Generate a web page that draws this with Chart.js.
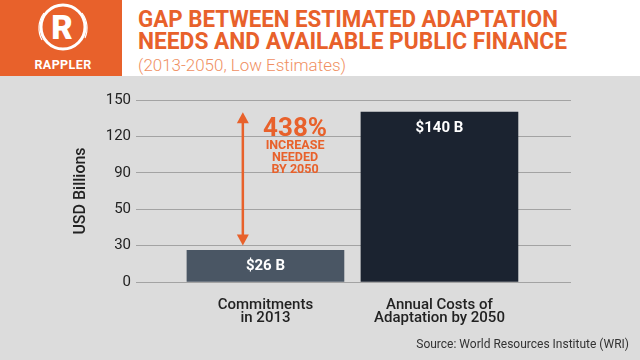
<!DOCTYPE html>
<html>
<head>
<meta charset="utf-8">
<script src="https://cdn.jsdelivr.net/npm/chart.js@4.4.1/dist/chart.umd.min.js"></script>
<style>
  html, body { margin: 0; padding: 0; }
  body { width: 640px; height: 360px; position: relative; overflow: hidden; background: #dcdcdc; font-family: Roboto, "DejaVu Sans", sans-serif; }
  #header { position: absolute; left: 0; top: 0; width: 640px; height: 76px; background: #ffffff; }
  #brand { position: absolute; left: 0; top: 0; width: 122px; height: 76px; background: #e8612b; }
  .tline { position: absolute; left: 138px; white-space: nowrap; transform-origin: 0 0; color: #e8612b; font-weight: 700; font-size: 24px; line-height: 24px; }
  #sub { position: absolute; left: 138px; white-space: nowrap; transform-origin: 0 0; color: #f08f62; font-weight: 300; font-size: 16px; line-height: 16px; top: 58px; }
  #wrap { position: absolute; left: 0; top: 76px; width: 640px; height: 284px; }
  #source { position: absolute; right: 11px; top: 337px; font-size: 12px; color: #333; }
</style>
</head>
<body>
<div id="header">
  <div id="brand">
    <svg width="122" height="76" viewBox="0 0 122 76">
      <circle cx="63" cy="27" r="22" fill="none" stroke="#ffffff" stroke-width="3"/>
      <path d="M 44 13 A 25 25 0 0 0 42 40" fill="none" stroke="#ffffff" stroke-width="1.2"/>
      <path d="M 82 13 A 25 25 0 0 1 85 38" fill="none" stroke="#ffffff" stroke-width="1.2"/>
      <text x="62" y="39" text-anchor="middle" font-family="Roboto" font-weight="900" font-size="33" fill="#ffffff">R</text>
      <text x="63" y="69" text-anchor="middle" font-family="Roboto" font-weight="700" font-size="12.5" fill="#ffffff" letter-spacing="0.4">RAPPLER</text>
    </svg>
  </div>
  <div class="tline" id="t1" style="top:7px">GAP BETWEEN ESTIMATED ADAPTATION</div>
  <div class="tline" id="t2" style="top:29px">NEEDS AND AVAILABLE PUBLIC FINANCE</div>
  <div id="sub">(2013-2050, Low Estimates)</div>
</div>
<div id="wrap"><canvas id="c" width="640" height="284"></canvas></div>
<div id="source">Source: World Resources Institute (WRI)</div>
<script>
// ---- data ----
const categories = [["Commitments", "in 2013"], ["Annual Costs of", "Adaptation by 2050"]];
const values = [26, 140];
const valueLabels = ["$26 B", "$140 B"];
const yTickLabels = ["0", "30", "50", "90", "120", "150"];
const arrowRange = [30, 140];
const noteLines = ["438%", "INCREASE", "NEEDED", "BY 2050"];

// fit header lines to their measured widths
function fitWidth(id, target) {
  const el = document.getElementById(id);
  const w = el.getBoundingClientRect().width;
  el.style.transform = 'scaleX(' + (target / w) + ')';
}
fitWidth('t1', 420);
fitWidth('t2', 429);
fitWidth('sub', 208);

const barColors = ['#4a5664', '#1b2330'];
const orange = '#e8612b';

const overlay = {
  id: 'overlay',
  afterDatasetsDraw(chart) {
    const ctx = chart.ctx;
    const xs = chart.scales.x, ys = chart.scales.y;
    const meta = chart.getDatasetMeta(0);
    ctx.save();
    // value labels inside bars
    ctx.fillStyle = '#ffffff';
    ctx.font = '700 15px Roboto';
    ctx.textAlign = 'center';
    ctx.textBaseline = 'middle';
    meta.data.forEach((bar, i) => {
      ctx.fillText(valueLabels[i], bar.x, bar.y + 16);
    });
    // arrow
    const ax = xs.getPixelForValue(-0.13);
    const yTop = ys.getPixelForValue(arrowRange[1]);
    const yBot = ys.getPixelForValue(arrowRange[0]);
    ctx.strokeStyle = orange;
    ctx.fillStyle = orange;
    ctx.lineWidth = 2.5;
    ctx.beginPath();
    ctx.moveTo(ax, yTop + 8);
    ctx.lineTo(ax, yBot - 8);
    ctx.stroke();
    ctx.beginPath();
    ctx.moveTo(ax, yTop); ctx.lineTo(ax - 6, yTop + 11); ctx.lineTo(ax + 6, yTop + 11); ctx.closePath();
    ctx.fill();
    ctx.beginPath();
    ctx.moveTo(ax, yBot); ctx.lineTo(ax - 6, yBot - 11); ctx.lineTo(ax + 6, yBot - 11); ctx.closePath();
    ctx.fill();
    // note text
    const tx = xs.getPixelForValue(0.17);
    const ty = ys.getPixelForValue(arrowRange[1]);
    ctx.textAlign = 'center';
    ctx.textBaseline = 'middle';
    ctx.font = '700 26px Roboto';
    ctx.fillText(noteLines[0], tx, ty + 17);
    ctx.font = '700 12.5px Roboto';
    ctx.fillText(noteLines[1], tx, ty + 34);
    ctx.fillText(noteLines[2], tx, ty + 46);
    ctx.fillText(noteLines[3], tx, ty + 58);
    ctx.restore();
  }
};

new Chart(document.getElementById('c'), {
  type: 'bar',
  data: {
    datasets: [{
      data: values.map((v, i) => ({ x: i, y: v })),
      backgroundColor: barColors,
      borderWidth: 0,
      barThickness: 157
    }]
  },
  options: {
    responsive: false,
    animation: false,
    events: [],
    layout: { padding: { top: 24, right: 69, bottom: 0, left: 0 } },
    plugins: { legend: { display: false }, tooltip: { enabled: false } },
    scales: {
      x: {
        type: 'linear',
        offset: false,
        min: -0.744,
        max: 1.756,
        afterBuildTicks: s => { s.ticks = categories.map((c, i) => ({ value: i })); },
        afterFit: s => { s.height = 78; },
        grid: { display: false },
        border: { display: false },
        ticks: {
          callback: (v) => categories[v],
          color: '#222',
          font: { family: 'Roboto', size: 15, weight: '500', lineHeight: 0.9 },
          padding: 8,
          maxRotation: 0,
          autoSkip: false
        }
      },
      y: {
        min: 0,
        max: 150,
        afterFit: s => { s.width = 136; },
        ticks: {
          stepSize: 30,
          callback: (v, i) => yTickLabels[i],
          color: '#222',
          font: { family: 'Roboto', size: 15 },
          padding: 5
        },
        grid: { color: '#a3a3a3', lineWidth: 1, drawTicks: false },
        border: { display: false },
        title: {
          display: true,
          text: 'USD Billions',
          color: '#222',
          font: { family: 'Roboto', size: 16, weight: '500' },
          padding: { top: 71, bottom: 0 }
        }
      }
    }
  },
  plugins: [overlay]
});
</script>
</body>
</html>
